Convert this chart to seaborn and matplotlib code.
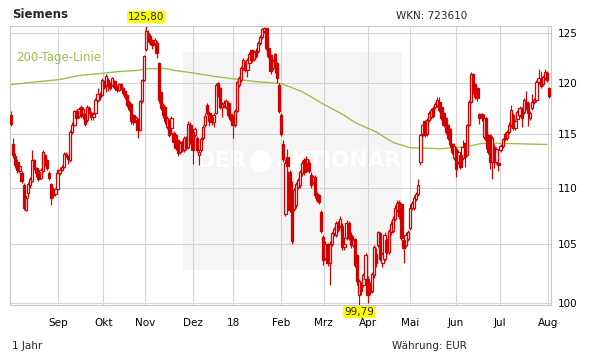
import numpy as np
import pandas as pd
import matplotlib
matplotlib.use("Agg")
import matplotlib.pyplot as plt
import seaborn as sns
from matplotlib.patches import Rectangle, Circle
from matplotlib.ticker import NullLocator, FixedLocator, FixedFormatter

# ---- daily candles (open, high, low, close), one list per month ----
aug17 = [(116.8,117.2,115.8,116.0),(114.0,114.6,112.7,113.0),(112.9,113.2,111.8,112.1),(112.4,112.6,111.3,111.6),
         (111.5,112.2,111.3,112.0),(111.3,111.5,110.4,110.6),(110.2,110.4,108.0,108.2),(108.0,109.3,107.9,109.1),
         (109.5,110.5,109.1,110.3),(110.2,111.0,110.0,110.8),(110.6,113.5,110.5,112.5),(112.5,112.6,111.6,111.8),
         (111.8,111.9,111.0,111.3),(111.4,111.5,110.6,110.8),(110.9,111.8,110.8,111.6),(111.5,113.5,111.4,113.3),
         (113.0,113.1,112.0,112.2),(112.5,112.6,111.6,111.8),(111.3,111.5,110.7,110.9),(110.3,110.4,108.4,109.1),
         (109.9,110.1,109.1,109.3),(109.4,110.0,109.2,109.9),(109.9,111.7,109.8,111.3)]
sep17 = [(111.3,111.9,111.2,111.6),(111.6,112.1,111.5,111.9),(111.9,113.3,111.8,113.1),(113.1,113.3,112.8,112.9),
         (112.9,113.0,112.2,112.6),(112.5,115.4,112.4,115.2),(115.2,116.1,115.0,115.9),(115.9,117.3,115.8,117.2),
         (117.2,117.3,116.3,116.5),(116.7,117.6,116.5,117.4),(117.6,117.8,116.5,116.7),(116.9,117.6,116.4,117.4),
         (116.8,117.0,115.8,116.0),(116.3,117.8,116.1,117.6),(117.5,117.7,116.9,117.1),(117.0,117.2,116.3,116.6),
         (116.6,117.1,116.3,116.9),(117.0,118.5,116.9,118.3),(118.3,119.5,118.1,118.9),(118.9,119.1,118.3,118.6),
         (118.8,120.5,118.7,120.3)]
oct17 = [(120.1,120.3,119.4,119.6),(119.8,120.9,119.1,120.7),(120.3,120.5,119.2,119.7),(119.9,120.1,119.3,119.5),
         (119.8,120.6,119.7,120.5),(120.2,120.3,119.4,119.6),(119.6,119.8,119.1,119.3),(119.3,120.0,119.2,119.9),
         (119.9,120.0,119.3,119.5),(119.5,119.6,118.8,119.0),(119.2,119.3,118.4,118.6),(118.8,118.9,117.6,117.8),
         (118.1,118.3,117.2,117.4),(117.9,118.0,116.0,116.2),(116.8,116.9,115.9,116.1),(116.1,116.7,116.0,116.5),
         (116.3,116.5,114.6,115.4),(115.4,118.3,115.3,118.2),(118.2,120.4,118.0,120.3),(120.3,122.8,120.2,122.7)]
nov17 = [(123.4,125.8,123.2,125.2),(125.0,125.3,124.1,124.4),(124.7,124.9,123.8,124.0),(124.2,124.4,123.4,123.8),
         (123.8,124.5,123.6,124.3),(124.0,124.2,122.5,123.0),(122.0,122.1,118.0,118.3),(119.1,119.2,117.3,117.5),
         (117.8,118.0,116.5,116.8),(117.6,117.7,116.0,116.2),(115.7,116.7,115.5,116.5),(116.3,116.4,114.7,114.9),
         (115.6,116.7,115.0,116.5),(115.1,115.3,114.0,114.2),(114.9,115.0,113.5,113.7),(114.4,114.5,112.9,113.2),
         (113.3,114.3,113.1,114.1),(114.2,114.4,113.3,113.5),(113.5,114.8,113.3,114.6),(114.6,114.8,113.5,113.7),
         (113.8,116.2,113.6,116.0),(115.9,116.1,114.0,114.3)]
dec17 = [(115.2,115.4,112.2,113.5),(114.9,115.7,114.7,115.5),(114.6,114.8,113.3,113.5),(113.0,113.6,112.1,113.3),
         (113.5,114.7,113.3,114.5),(114.6,115.9,114.4,115.7),(115.9,117.0,115.7,116.7),(117.8,118.0,116.8,117.0),
         (117.0,117.2,115.8,116.2),(116.6,116.8,115.9,116.1),(116.1,117.0,115.7,116.8),(117.0,120.0,116.9,119.8),
         (120.0,120.1,118.6,118.8),(119.5,119.6,117.4,117.6),(117.6,118.1,116.6,117.9),(117.8,118.3,117.5,118.0),
         (117.6,118.4,117.4,118.2),(118.0,118.2,116.6,116.8),(116.9,117.0,116.2,116.4)]
jan18 = [(116.6,116.8,114.6,115.9),(115.9,117.4,115.7,117.2),(117.2,120.2,117.1,120.1),(119.8,120.7,119.6,120.5),
         (120.3,121.7,120.1,121.5),(121.5,122.5,121.3,122.3),(122.0,122.2,121.1,121.3),(121.3,122.5,120.6,122.3),
         (122.0,123.1,121.9,122.9),(123.3,123.4,122.1,122.3),(122.4,123.3,122.2,123.1),(123.2,123.5,122.5,122.7),
         (123.2,124.2,123.0,124.0),(124.0,124.8,123.8,124.6),(124.6,125.6,124.4,125.4),(125.2,125.7,125.0,125.6),
         (125.5,125.6,123.3,123.5),(123.5,123.7,122.5,122.7),(122.8,122.9,120.9,121.2),(121.5,122.4,121.3,122.2),
         (122.9,123.0,121.0,122.0),(122.0,122.1,120.0,120.5)]
feb18 = [(119.8,120.0,117.0,117.2),(116.8,117.0,114.8,115.0),(114.0,114.4,112.4,112.6),(107.6,112.6,107.4,112.3),
         (112.8,113.6,111.2,112.0),(111.4,111.6,107.8,108.0),(109.6,110.6,105.0,105.2),(108.1,110.0,107.9,109.8),
         (108.4,110.5,108.2,110.3),(110.1,110.9,109.9,110.7),(110.2,111.6,110.0,111.4),(111.3,112.5,111.1,112.3),
         (112.5,112.7,111.2,111.4),(112.2,112.9,112.0,112.6),(112.3,112.5,111.3,111.5),(111.2,111.4,110.0,110.2),
         (110.5,111.2,110.3,111.0),(111.0,111.2,109.1,109.3),(109.4,109.6,108.7,108.9),(109.3,109.4,108.5,108.7)]
mar18 = [(107.8,108.0,105.9,106.1),(105.6,105.8,103.2,103.6),(103.8,105.2,103.6,105.0),(105.0,105.1,103.1,103.3),
         (103.3,105.2,101.5,105.0),(105.0,106.0,104.8,105.9),(105.9,106.5,105.7,106.3),(105.8,107.0,105.6,106.8),
         (106.8,107.0,106.0,106.2),(106.6,107.4,106.4,107.2),(106.6,106.8,104.5,104.7),(104.7,105.6,104.5,105.0),
         (105.5,107.1,105.3,106.8),(106.8,107.0,105.3,105.5),(105.8,106.0,104.6,104.9),(104.9,105.7,104.7,105.3),
         (105.4,105.5,103.0,103.2),(104.0,104.1,101.5,101.8),(100.6,102.0,99.79,101.8),(101.5,101.7,100.6,101.0),
         (101.5,102.5,101.3,102.3)]
apr18 = [(102.0,104.2,101.8,104.0),(102.0,102.2,100.0,100.6),(101.5,101.7,100.6,100.9),(101.0,102.6,100.8,102.4),
         (102.3,104.9,102.1,104.7),(104.1,104.6,103.0,103.3),(104.9,106.1,104.7,106.0),(105.9,106.0,103.5,103.7),
         (103.3,104.3,103.0,104.1),(103.7,106.0,103.5,105.8),(105.3,105.5,104.1,104.3),(104.3,106.3,104.1,106.1),
         (106.0,107.0,105.8,106.7),(106.1,107.4,105.9,107.2),(107.2,108.4,107.0,108.2),(108.0,108.9,107.8,108.6),
         (108.7,108.9,107.2,107.4),(108.5,108.6,105.3,105.5),(105.3,105.5,103.3,104.6),(104.9,106.0,104.7,105.8)]
may18 = [(105.4,106.2,105.2,106.0),(106.4,108.5,106.2,108.2),(108.2,108.8,108.0,108.6),(108.2,109.3,108.0,109.1),
         (109.0,109.6,108.8,109.4),(109.4,110.8,109.2,110.2),(112.4,115.0,112.1,114.9),(115.0,116.1,114.8,115.9),
         (116.2,116.3,114.7,114.9),(115.0,116.5,114.8,116.3),(116.3,117.2,116.1,117.0),(116.6,117.5,116.4,117.3),
         (117.5,117.7,116.5,116.7),(117.6,118.1,117.4,117.9),(117.8,118.6,117.6,118.3),(118.1,118.6,117.1,117.3),
         (117.6,117.8,116.3,116.5),(117.0,117.1,115.7,115.9),(116.5,116.6,115.0,115.2),(115.9,116.0,114.4,114.6),
         (115.5,115.6,113.8,114.0),(114.0,114.1,113.1,113.3)]
jun18 = [(112.7,114.1,112.5,113.9),(113.6,113.8,111.0,111.7),(112.4,113.5,112.2,113.3),(113.0,113.2,111.7,111.9),
         (112.7,114.4,112.5,113.8),(114.1,114.2,111.9,112.8),(113.0,116.0,112.9,115.9),(115.9,118.3,115.8,118.1),
         (118.1,121.1,118.0,120.9),(120.9,121.0,118.9,119.1),(119.9,120.0,118.4,118.6),(119.5,119.6,118.2,118.5),
         (116.9,117.0,116.0,116.5),(116.9,117.0,116.2,116.6),(114.7,116.9,114.5,116.5),(116.5,116.6,113.6,114.4),
         (114.9,115.0,113.1,113.3),(114.9,115.0,111.7,112.4),(112.4,114.8,110.8,114.6),(113.8,114.0,111.8,112.4),
         (112.4,113.8,112.2,113.6)]
jul18 = [(112.3,112.4,111.5,112.1),(113.5,114.0,113.3,113.9),(113.9,114.6,113.7,114.5),(115.0,115.2,114.3,114.5),
         (114.6,115.4,114.4,115.2),(115.2,116.1,115.0,115.9),(115.9,117.8,115.7,117.3),(116.8,117.0,115.4,115.6),
         (115.6,116.4,115.4,116.2),(116.4,117.3,116.2,117.1),(116.8,117.7,116.6,117.5),(117.4,117.6,115.7,116.5),
         (117.1,118.5,116.9,118.3),(118.1,119.2,117.3,117.5),(118.0,118.2,115.8,117.0),(116.5,117.2,116.3,117.0),
         (117.5,118.9,117.3,118.1),(118.1,118.5,117.9,118.3),(118.3,120.3,118.1,120.1),(120.1,121.4,119.9,120.5),
         (120.3,121.2,119.5,119.7),(119.9,120.8,119.7,120.6)]
aug18 = [(120.5,121.4,120.3,121.1),(121.0,121.2,120.1,120.3),(119.5,119.6,118.5,118.7)]

# 200-day line, sampled at trading-day positions
sma_idx = [0, 9, 23, 32, 42, 51, 59, 65, 73, 78, 85, 97, 108, 116, 128, 138, 147, 157, 163, 173, 181, 189, 204, 216, 223, 235, 254]
sma_val = [119.8, 120.0, 120.3, 120.7, 120.9, 121.1, 121.2, 121.4, 121.4, 121.2, 121.0, 120.6, 120.3, 120.1, 119.9,
           119.1, 118.0, 116.9, 116.1, 115.2, 114.2, 113.7, 113.6, 113.8, 114.1, 114.1, 114.0]

month_labels = ["Sep", "Okt", "Nov", "Dez", "18", "Feb", "Mrz", "Apr", "Mai", "Jun", "Jul", "Aug"]
month_pos = [22.4, 43.7, 63.7, 86.1, 105.4, 127.8, 148.2, 169.2, 189.1, 210.8, 231.9, 254.4]
y_ticks = [100, 105, 110, 115, 120, 125]
y_labels = ["100", "105", "110", "115", "120", "125"]

rows = aug17 + sep17 + oct17 + nov17 + dec17 + jan18 + feb18 + mar18 + apr18 + may18 + jun18 + jul18 + aug18
df = pd.DataFrame(rows, columns=["open", "high", "low", "close"])
df["idx"] = np.arange(len(df))

sns.set_theme(style="white")
plt.rcParams["font.family"] = ["DejaVu Sans"]

W, H = 611, 364
fig = plt.figure(figsize=(W / 100, H / 100), dpi=100)
fig.patch.set_facecolor("white")
L, R, T, B = 10, 551, 25.6, 305.2
ax = fig.add_axes([L / W, 1 - B / H, (R - L) / W, (B - T) / H])

RED = "#d40000"
GRID = "#d4d4d4"
GREEN = "#9cbf4a"

ax.set_yscale("log")
ax.set_ylim(99.79, 125.8)
ax.set_xlim(-0.5, 255.9)

# watermark area
def axfrac(px, py):
    return (px - L) / (R - L), (B - py) / (B - T)

x0, y0 = axfrac(183, 270)
x1, y1 = axfrac(402, 52)
ax.add_patch(Rectangle((x0, y0), x1 - x0, y1 - y0, transform=ax.transAxes,
                       facecolor="#f5f5f5", edgecolor="none", zorder=0.1))
tx, ty = axfrac(197, 161)
ax.text(tx, ty, "DER", transform=ax.transAxes, color="white", fontsize=15.5, fontweight="bold",
        va="center", ha="left", zorder=0.2)
ax.add_patch(Circle((261, 364 - 161), 11, transform=None, facecolor="white", edgecolor="none", zorder=0.2))
tx2, _ = axfrac(276, 161)
ax.text(tx2, ty, "AKTIONÄR", transform=ax.transAxes, color="white", fontsize=15.5, fontweight="bold",
        va="center", ha="left", zorder=0.2)

# grid
for p in month_pos:
    ax.axvline(p, color=GRID, lw=0.8, zorder=0.5)
for v in y_ticks:
    ax.axhline(v, color=GRID, lw=0.8, zorder=0.5)

# 200-day line
sns.lineplot(x=sma_idx, y=sma_val, ax=ax, color=GREEN, lw=1.0, zorder=1.5)

# candles
up = df["close"] >= df["open"]
ax.vlines(df["idx"], df["low"], df["high"], color=RED, lw=0.85, zorder=2)
body_lo = np.minimum(df["open"], df["close"])
body_h = np.maximum(np.abs(df["close"] - df["open"]), 0.05)
ax.bar(df["idx"][up], body_h[up], bottom=body_lo[up], width=1.1, facecolor="white",
       edgecolor=RED, linewidth=0.9, zorder=3)
ax.bar(df["idx"][~up], body_h[~up], bottom=body_lo[~up], width=1.1, facecolor=RED,
       edgecolor=RED, linewidth=0.9, zorder=3)

# axes styling
ax.yaxis.set_minor_locator(NullLocator())
ax.yaxis.set_major_locator(FixedLocator(y_ticks))
ax.yaxis.set_major_formatter(FixedFormatter(y_labels))
ax.yaxis.tick_right()
ax.tick_params(axis="y", length=0, pad=5, labelsize=7.5, colors="black")
ax.xaxis.set_major_locator(FixedLocator(month_pos))
ax.xaxis.set_major_formatter(FixedFormatter(month_labels))
ax.tick_params(axis="x", length=0, pad=9.5, labelsize=7.5, colors="black")
ax.set_xlabel("")
ax.set_ylabel("")
for s in ax.spines.values():
    s.set_color("#c8c8c8")
    s.set_linewidth(0.8)
ax.grid(False)

# texts
fig.text(12 / W, 1 - 14 / H, "Siemens", fontsize=8.5, fontweight="bold", va="center", ha="left")
fig.text(396 / W, 1 - 16 / H, "WKN: 723610", fontsize=7.5, va="center", ha="left")
fig.text(12 / W, 1 - 346 / H, "1 Jahr", fontsize=7.5, va="center", ha="left")
fig.text(392 / W, 1 - 346 / H, "Währung: EUR", fontsize=7.5, va="center", ha="left")
fig.text(16 / W, 1 - 58 / H, "200-Tage-Linie", fontsize=8.5, color=GREEN, va="center", ha="left")

ybox = dict(boxstyle="square,pad=0.08", facecolor="#ffff00", edgecolor="none")
i_max = int(df["high"].idxmax())
i_min = int(df["low"].idxmin())
ax.annotate("125,80", xy=(i_max, df["high"].max()), xytext=(0, 6), textcoords="offset points",
            ha="center", va="center", fontsize=7.5, bbox=ybox, annotation_clip=False, zorder=5)
ax.annotate("99,79", xy=(i_min, df["low"].min()), xytext=(0, -5), textcoords="offset points",
            ha="center", va="center", fontsize=7.5, bbox=ybox, annotation_clip=False, zorder=5)

fig.savefig("out.png", dpi=100, facecolor="white")
